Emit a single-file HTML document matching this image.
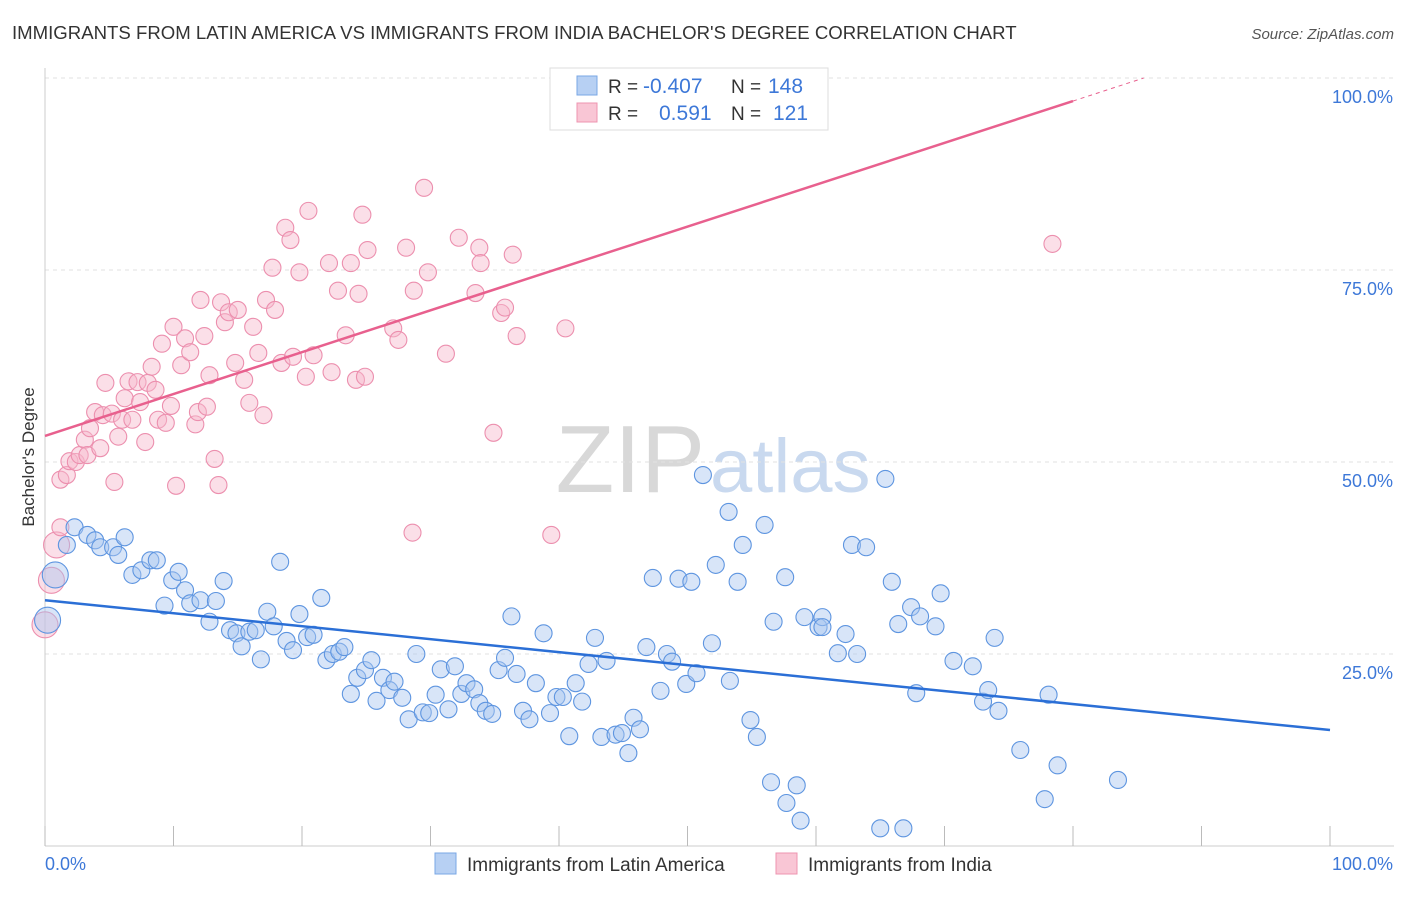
<!DOCTYPE html>
<html><head><meta charset="utf-8"><style>
body{margin:0;background:#fff;font-family:"Liberation Sans",sans-serif;}
svg text{font-family:"Liberation Sans",sans-serif;}
</style></head><body>
<svg id="chart" width="1406" height="892" xmlns="http://www.w3.org/2000/svg">
<text x="12" y="39" font-size="18.6" fill="#333">IMMIGRANTS FROM LATIN AMERICA VS IMMIGRANTS FROM INDIA BACHELOR'S DEGREE CORRELATION CHART</text>
<text x="1394" y="39" font-size="15" fill="#555" text-anchor="end" font-style="italic">Source: ZipAtlas.com</text>
<text x="705" y="492" font-size="96" fill="#d8d8d8" text-anchor="end" font-family="Liberation Serif">ZIP</text>
<text x="710" y="492" font-size="76" fill="#c9d9ef">atlas</text>
<g id="grid"></g>
<g id="marks"></g>
<text transform="translate(34,457) rotate(-90)" font-size="17" fill="#333" text-anchor="middle">Bachelor's Degree</text>
<g>
<rect x="550" y="68" width="278" height="62" fill="#fff" stroke="#ddd"/>
<rect x="577" y="76" width="20" height="19" fill="#b7d0f3" stroke="#7aa7e4"/>
<rect x="577" y="103" width="20" height="19" fill="#f9c6d5" stroke="#ee94b0"/>
<text x="608" y="93" font-size="19" fill="#333">R =</text>
<text x="643" y="93" font-size="21" fill="#3d78d8">-0.407</text>
<text x="731" y="93" font-size="19" fill="#333">N =</text>
<text x="768" y="93" font-size="21" fill="#3d78d8">148</text>
<text x="608" y="120" font-size="19" fill="#333">R =</text>
<text x="659" y="120" font-size="21" fill="#3d78d8">0.591</text>
<text x="731" y="120" font-size="19" fill="#333">N =</text>
<text x="773" y="120" font-size="21" fill="#3d78d8">121</text>
</g>
<g>
<rect x="435" y="853" width="21" height="21" fill="#b7d0f3" stroke="#7aa7e4"/>
<text x="467" y="871" font-size="19" fill="#333">Immigrants from Latin America</text>
<rect x="776" y="853" width="21" height="21" fill="#f9c6d5" stroke="#ee94b0"/>
<text x="808" y="871" font-size="19" fill="#333">Immigrants from India</text>
</g>
</svg>
<script>
const yTicks=[25,50,75,100];
const yTickLabels=["25.0%","50.0%","75.0%","100.0%"];
const blueX=[0.2,0.8,1.7,2.3,3.3,3.9,4.3,5.3,5.7,6.2,6.8,7.5,8.2,8.7,9.3,9.9,10.4,10.9,11.3,12.1,12.8,13.3,13.9,14.4,14.9,15.3,15.9,16.4,16.8,17.3,17.8,18.3,18.8,19.3,19.8,20.4,20.9,21.5,21.9,22.4,22.9,23.3,23.8,24.3,24.9,25.4,25.8,26.3,26.8,27.2,27.8,28.3,28.9,29.4,29.9,30.4,30.8,31.4,31.9,32.4,32.8,33.4,33.8,34.3,34.8,35.3,35.8,36.3,36.7,37.2,37.7,38.2,38.8,39.3,39.8,40.3,40.8,41.3,41.8,42.3,42.8,43.3,43.7,44.4,44.9,45.4,45.8,46.3,46.8,47.3,47.9,48.4,48.8,49.3,49.9,50.3,50.7,51.2,51.9,52.2,53.2,53.3,53.9,54.3,54.9,55.4,56.0,56.5,56.7,57.6,57.7,58.5,58.8,59.1,60.2,60.5,60.5,61.7,62.3,62.8,63.2,63.9,65.0,65.4,65.9,66.4,66.8,67.4,67.8,68.1,69.3,69.7,70.7,72.2,73.0,73.4,73.9,74.2,75.9,77.8,78.1,78.8,83.5];
const blueY=[29.4,35.3,39.2,41.5,40.5,39.8,38.9,38.9,37.9,40.2,35.3,35.9,37.2,37.2,31.3,34.6,35.7,33.3,31.6,32.0,29.2,31.9,34.5,28.1,27.7,26.0,27.9,28.1,24.3,30.5,28.6,37.0,26.7,25.5,30.2,27.2,27.5,32.3,24.2,25.0,25.3,25.9,19.8,21.9,22.9,24.2,18.9,21.9,20.3,21.4,19.3,16.5,25.0,17.4,17.3,19.7,23.0,17.8,23.4,19.8,21.2,20.4,18.6,17.6,17.2,22.9,24.5,29.9,22.4,17.6,16.5,21.2,27.7,17.3,19.4,19.4,14.3,21.2,18.8,23.7,27.1,14.2,24.1,14.5,14.7,12.1,16.7,15.2,25.9,34.9,20.2,25.0,24.0,34.8,21.1,34.4,22.5,48.3,26.4,36.6,43.5,21.5,34.4,39.2,16.4,14.2,41.8,8.3,29.2,35.0,5.6,7.9,3.3,29.8,28.5,29.8,28.5,25.1,27.6,39.2,25.0,38.9,2.3,47.8,34.4,28.9,2.3,31.1,19.9,29.9,28.6,32.9,24.1,23.4,18.8,20.3,27.1,17.6,12.5,6.1,19.7,10.5,8.6];
const pinkX=[0,0.5,0.9,1.2,1.2,1.7,1.9,2.4,2.7,3.1,3.3,3.5,3.9,4.3,4.5,4.7,5.2,5.4,5.7,6.0,6.2,6.5,6.8,7.2,7.4,7.8,8.0,8.3,8.6,8.8,9.1,9.4,9.8,10.0,10.2,10.6,10.9,11.3,11.7,11.9,12.1,12.4,12.6,12.8,13.2,13.5,13.7,14.0,14.3,14.8,15.0,15.5,15.9,16.2,16.6,17.0,17.2,17.7,17.9,18.4,18.7,19.1,19.3,19.8,20.3,20.5,20.9,22.1,22.3,22.8,23.4,23.8,24.2,24.4,24.7,24.9,25.1,27.1,27.5,28.1,28.6,28.7,29.5,29.8,31.2,32.2,33.5,33.8,33.9,34.9,35.5,35.8,36.4,36.7,39.4,40.5,78.4];
const pinkY=[28.8,34.6,39.2,41.5,47.7,48.3,50.1,50.0,50.9,52.9,50.9,54.4,56.5,51.8,56.1,60.3,56.3,47.4,53.3,55.5,58.3,60.5,55.5,60.4,57.8,52.6,60.3,62.4,59.4,55.5,65.4,55.1,57.3,67.6,46.9,62.6,66.1,64.3,54.9,56.5,71.1,66.4,57.2,61.3,50.4,47.0,70.8,68.2,69.5,62.9,69.8,60.7,57.7,67.6,64.2,56.1,71.1,75.3,69.8,62.9,80.5,78.9,63.7,74.7,61.1,82.7,63.9,75.9,61.7,72.3,66.5,75.9,60.7,71.9,82.2,61.1,77.6,67.4,65.9,77.9,40.8,72.3,85.7,74.7,64.1,79.2,72.0,77.9,75.9,53.8,69.4,70.1,77.0,66.4,40.5,67.4,78.4];
const blueLine=[32.0,15.1];
const pinkLine=[53.4,107.9];
const X0=45,X1=1330,Y0=846,Y100=78;
const sx=v=>X0+(X1-X0)*v/100;
const sy=v=>Y0-(Y0-Y100)*v/100;
const NS="http://www.w3.org/2000/svg";
function mk(tag,attrs,parent){const e=document.createElementNS(NS,tag);for(const k in attrs)e.setAttribute(k,attrs[k]);parent.appendChild(e);return e;}
const grid=document.getElementById('grid'),marks=document.getElementById('marks');
yTicks.forEach((t,i)=>{
 const l=mk('line',{x1:X0,x2:1394,y1:sy(t),y2:sy(t),stroke:'#e2e2e2','stroke-dasharray':'4,4'},grid);
 
 
 const tx=mk('text',{x:1393,y:sy(t)+25,'font-size':18,fill:'#3d78d8','text-anchor':'end'},grid);
 tx.textContent=yTickLabels[i];
 
 
});
const ax=mk('line',{x1:X0,x2:X0,y1:68,y2:Y0,stroke:'#ccc'},grid);


const bx=mk('line',{x1:X0,x2:1394,y1:Y0,y2:Y0,stroke:'#ccc'},grid);


for(let i=0;i<=10;i++){const t=mk('line',{x1:sx(i*10),x2:sx(i*10),y1:826,y2:Y0,stroke:'#bbb'},grid);
 
 }
const xl=mk('text',{x:45,y:870,'font-size':18,fill:'#3d78d8'},grid);xl.textContent='0.0%';


const xr=mk('text',{x:1393,y:870,'font-size':18,fill:'#3d78d8','text-anchor':'end'},grid);xr.textContent='100.0%';


function pts(xs,ys,fill,stroke,name){xs.forEach((x,i)=>{
 const r=(x<1)?13:8.5;
 const c=mk('circle',{cx:sx(x),cy:sy(ys[i]),r:r,fill:fill,'fill-opacity':0.45,stroke:stroke,'stroke-width':1.1},marks);
 
 });}
pts(pinkX,pinkY,'#f7b9cc','#ec8fae','india-point');
pts(blueX,blueY,'#a8c6f0','#5e95e0','latin-america-point');
const bl=mk('line',{x1:sx(0),y1:sy(blueLine[0]),x2:sx(100),y2:sy(blueLine[1]),stroke:'#2b6fd6','stroke-width':2.5},marks);


const slope=pinkLine[1]-pinkLine[0];
const pl=mk('line',{x1:sx(0),y1:sy(pinkLine[0]),x2:sx(80),y2:sy(pinkLine[0]+slope*0.8),stroke:'#e8608e','stroke-width':2.5},marks);


const pd=mk('line',{x1:sx(80),y1:sy(pinkLine[0]+slope*0.8),x2:sx(85.5),y2:sy(pinkLine[0]+slope*0.855),stroke:'#e8608e','stroke-width':1,'stroke-dasharray':'4,4'},marks);


</script>
</body></html>
